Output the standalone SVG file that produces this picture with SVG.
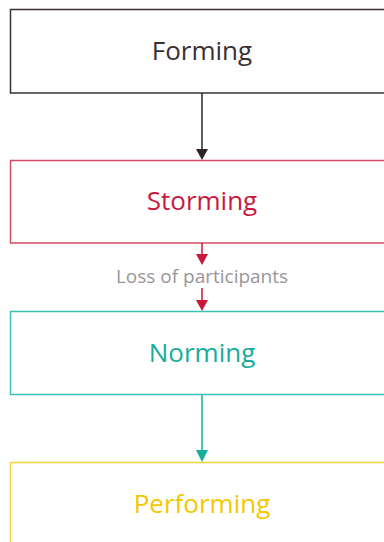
<svg xmlns="http://www.w3.org/2000/svg" width="384" height="542" viewBox="0 0 384 542">
<style>
.box{fill:#fff;stroke-width:1.5}
.t{font-family:"Open Sans","Liberation Sans",sans-serif;font-size:26px;text-anchor:middle}
.lbl{font-family:"Open Sans","Liberation Sans",sans-serif;font-size:19px;text-anchor:middle;fill:#9a9598}
</style>
<rect width="384" height="542" fill="#fff"/>
<g id="forming"><rect class="box" x="10.5" y="9.5" width="383" height="83.5" stroke="#3a3034"/><text class="t" x="202" y="60" fill="#3a3034">Forming</text></g>
<g id="storming"><rect class="box" x="10.5" y="160.5" width="383" height="82.5" stroke="#d74a63"/><text class="t" x="202" y="210" fill="#c8193c">Storming</text></g>
<g id="norming"><rect class="box" x="10.5" y="311.5" width="383" height="83" stroke="#38c2b2"/><text class="t" x="202" y="362" fill="#16ad9b">Norming</text></g>
<g id="performing"><rect class="box" x="10.5" y="462.5" width="383" height="90" stroke="#f8d43c"/><text class="t" x="202" y="513" fill="#f5c700">Performing</text></g>
<g id="connectors" stroke-width="1.5">
<line x1="202" y1="93" x2="202" y2="150" stroke="#2e2428"/><path d="M196,149 L208,149 L202,160 Z" fill="#2e2428"/>
<line x1="202" y1="243" x2="202" y2="255" stroke="#c8193c"/><path d="M196,254 L208,254 L202,265 Z" fill="#c8193c"/>
<text class="lbl" x="202" y="283">Loss of participants</text>
<line x1="202" y1="288" x2="202" y2="301" stroke="#c8193c"/><path d="M196,300 L208,300 L202,311 Z" fill="#c8193c"/>
<line x1="202" y1="395" x2="202" y2="451" stroke="#16ad9b"/><path d="M196,450 L208,450 L202,462 Z" fill="#16ad9b"/>
</g>
</svg>
